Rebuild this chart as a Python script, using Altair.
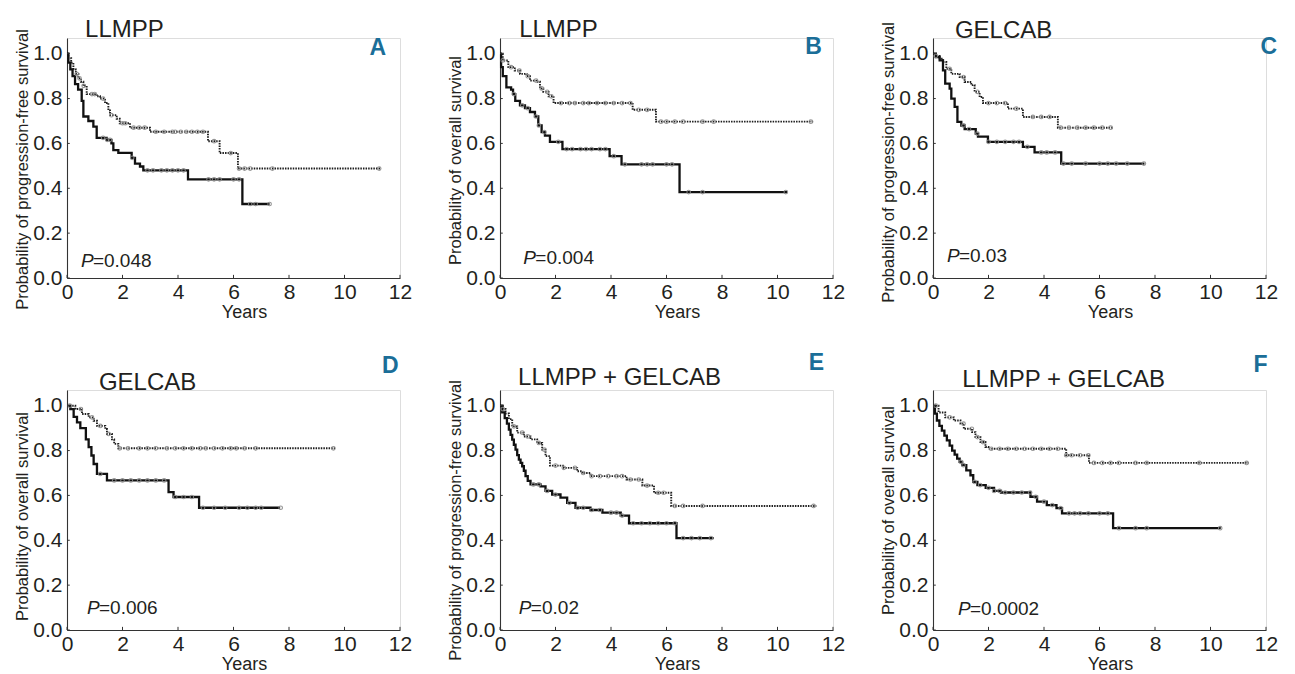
import altair as alt
import pandas as pd

FONT = "Liberation Sans"
TXT = "#231f20"
BLUE = "#1b6e98"

# ---------------- data ----------------
A_solid_t = [0, 0.05, 0.12, 0.2, 0.29, 0.4, 0.53, 0.59, 0.77, 0.95, 1.07, 1.43, 1.6, 1.67, 1.85, 2.33, 2.45, 2.63, 2.75, 4.36, 6.32, 7.3]
A_solid_s = [1.0, 0.96, 0.93, 0.9, 0.864, 0.84, 0.79, 0.72, 0.70, 0.675, 0.625, 0.616, 0.60, 0.57, 0.558, 0.536, 0.51, 0.497, 0.48, 0.44, 0.33, 0.33]
A_dot_t = [0, 0.05, 0.15, 0.23, 0.32, 0.41, 0.5, 0.59, 0.71, 1.07, 1.19, 1.37, 1.49, 1.55, 1.79, 1.9, 2.27, 2.99, 5.08, 5.5, 6.16, 11.3]
A_dot_s = [1.0, 0.98, 0.96, 0.93, 0.91, 0.89, 0.875, 0.857, 0.82, 0.81, 0.80, 0.78, 0.747, 0.726, 0.71, 0.69, 0.67, 0.652, 0.61, 0.557, 0.488, 0.488]

B_solid_t = [0, 0.04, 0.1, 0.23, 0.4, 0.47, 0.55, 0.72, 0.9, 1.08, 1.26, 1.38, 1.5, 1.62, 1.8, 2.25, 3.95, 4.38, 6.47, 10.35]
B_solid_s = [1.0, 0.94, 0.90, 0.85, 0.84, 0.82, 0.79, 0.77, 0.757, 0.74, 0.72, 0.68, 0.65, 0.635, 0.607, 0.575, 0.543, 0.507, 0.383, 0.383]
B_dot_t = [0, 0.1, 0.3, 0.53, 0.72, 0.96, 1.08, 1.32, 1.44, 1.56, 1.75, 1.93, 4.78, 5.62, 11.3]
B_dot_s = [1.0, 0.97, 0.94, 0.925, 0.91, 0.90, 0.88, 0.875, 0.845, 0.83, 0.81, 0.78, 0.75, 0.697, 0.697]

C_solid_t = [0, 0.1, 0.24, 0.36, 0.44, 0.6, 0.66, 0.78, 0.88, 1.02, 1.14, 1.54, 1.62, 1.98, 3.24, 3.66, 4.62, 7.62]
C_solid_s = [1.0, 0.985, 0.97, 0.926, 0.867, 0.844, 0.80, 0.763, 0.696, 0.68, 0.664, 0.644, 0.63, 0.607, 0.585, 0.56, 0.51, 0.51]
C_dot_t = [0, 0.1, 0.24, 0.36, 0.48, 0.66, 0.96, 1.14, 1.38, 1.5, 1.68, 1.8, 2.7, 3.24, 4.5, 6.48]
C_dot_s = [1.0, 0.99, 0.978, 0.963, 0.933, 0.91, 0.896, 0.874, 0.86, 0.83, 0.807, 0.78, 0.755, 0.718, 0.67, 0.67]

D_solid_t = [0, 0.12, 0.24, 0.36, 0.48, 0.68, 0.78, 0.88, 0.96, 1.08, 1.44, 3.66, 3.84, 4.76, 7.68]
D_solid_s = [1.0, 0.985, 0.95, 0.926, 0.9, 0.85, 0.815, 0.778, 0.74, 0.696, 0.667, 0.615, 0.593, 0.545, 0.545]
D_dot_t = [0, 0.3, 0.54, 0.78, 0.96, 1.08, 1.38, 1.44, 1.62, 1.7, 1.85, 9.66]
D_dot_s = [1.0, 0.985, 0.963, 0.948, 0.933, 0.91, 0.896, 0.874, 0.85, 0.83, 0.81, 0.81]

E_solid_t = [0, 0.08, 0.17, 0.25, 0.32, 0.38, 0.44, 0.5, 0.56, 0.62, 0.68, 0.74, 0.8, 0.86, 0.92, 1.0, 1.1, 1.46, 1.64, 1.88, 2.18, 2.42, 2.72, 3.26, 3.69, 4.35, 4.65, 6.36, 7.7]
E_solid_s = [1.0, 0.97, 0.945, 0.92, 0.893, 0.87, 0.849, 0.826, 0.804, 0.78, 0.76, 0.745, 0.73, 0.71, 0.686, 0.665, 0.649, 0.64, 0.62, 0.604, 0.59, 0.567, 0.545, 0.535, 0.523, 0.51, 0.476, 0.41, 0.41]
E_dot_t = [0, 0.1, 0.2, 0.32, 0.44, 0.62, 0.86, 1.1, 1.34, 1.52, 1.64, 1.8, 2.3, 2.78, 2.96, 3.26, 4.56, 5.13, 5.55, 6.17, 11.4]
E_dot_s = [1.0, 0.985, 0.965, 0.94, 0.908, 0.88, 0.863, 0.85, 0.834, 0.804, 0.775, 0.733, 0.723, 0.708, 0.70, 0.686, 0.671, 0.644, 0.612, 0.553, 0.553]

F_solid_t = [0, 0.07, 0.14, 0.23, 0.32, 0.41, 0.5, 0.6, 0.69, 0.78, 0.87, 0.96, 1.05, 1.2, 1.35, 1.45, 1.6, 1.9, 2.2, 2.45, 3.51, 3.75, 4.1, 4.45, 4.65, 6.49, 10.37]
F_solid_s = [1.0, 0.965, 0.934, 0.91, 0.889, 0.867, 0.845, 0.822, 0.80, 0.782, 0.764, 0.75, 0.735, 0.712, 0.69, 0.66, 0.646, 0.634, 0.62, 0.613, 0.594, 0.572, 0.557, 0.543, 0.52, 0.454, 0.454]
F_dot_t = [0, 0.2, 0.44, 0.75, 0.99, 1.11, 1.41, 1.53, 1.71, 1.89, 2.0, 4.8, 5.62, 11.37]
F_dot_s = [1.0, 0.97, 0.948, 0.934, 0.92, 0.897, 0.882, 0.86, 0.838, 0.816, 0.808, 0.779, 0.745, 0.745]

# censoring times
A_solid_c = [1.3, 1.45, 1.55, 2.35, 2.9, 3.1, 3.4, 3.6, 3.8, 4.0, 4.2, 5.1, 5.3, 5.5, 6.0, 6.2, 6.6, 6.8, 7.3]
A_dot_c = [0.35, 0.45, 0.6, 0.9, 1.0, 1.3, 1.6, 2.0, 2.1, 2.4, 2.6, 2.8, 3.2, 3.5, 3.8, 3.9, 4.1, 4.3, 4.5, 4.7, 4.9, 5.3, 5.9, 6.2, 6.4, 6.6, 7.4, 11.25]
B_solid_c = [0.5, 0.8, 1.0, 1.3, 1.4, 1.6, 2.1, 2.4, 2.6, 2.9, 3.1, 3.3, 3.6, 3.8, 4.1, 4.5, 5.1, 5.3, 5.5, 6.0, 6.2, 6.8, 7.3, 10.3]
B_dot_c = [0.1, 0.4, 0.7, 1.0, 1.3, 1.5, 1.7, 1.85, 2.2, 2.5, 2.7, 3.0, 3.2, 3.5, 3.8, 4.1, 4.4, 4.7, 5.0, 5.3, 5.8, 6.0, 6.3, 6.6, 7.3, 7.7, 11.2]
C_solid_c = [1.1, 1.3, 1.6, 2.0, 2.3, 2.6, 2.9, 3.1, 3.4, 3.9, 4.1, 4.4, 4.7, 5.0, 5.5, 6.0, 6.3, 6.6, 7.0, 7.6]
C_dot_c = [0.1, 0.6, 1.1, 1.6, 2.0, 2.3, 2.6, 3.0, 3.6, 3.9, 4.2, 4.6, 4.9, 5.2, 5.5, 5.8, 6.1, 6.4]
D_solid_c = [1.2, 1.7, 2.0, 2.3, 2.6, 2.9, 3.2, 3.5, 3.9, 4.2, 4.5, 4.9, 5.3, 5.7, 6.2, 6.5, 6.8, 7.0, 7.7]
D_dot_c = [0.1, 0.5, 0.9, 1.2, 1.5, 1.9, 2.2, 2.6, 2.9, 3.2, 3.6, 3.9, 4.2, 4.5, 4.8, 5.0, 5.3, 5.6, 5.9, 6.1, 6.4, 6.8, 9.6]
E_solid_c = [1.2, 1.4, 1.7, 2.0, 2.5, 2.8, 3.0, 3.3, 3.6, 4.0, 4.2, 4.4, 4.8, 5.1, 5.4, 5.7, 6.0, 6.3, 6.6, 6.9, 7.2, 7.6]
E_dot_c = [0.1, 0.5, 0.8, 1.0, 1.4, 1.6, 2.0, 2.3, 2.7, 3.0, 3.3, 3.6, 3.9, 4.2, 4.4, 4.7, 5.0, 5.3, 5.7, 5.9, 6.3, 6.6, 7.3, 11.3]
F_solid_c = [1.0, 1.1, 1.5, 1.7, 2.0, 2.2, 2.4, 2.6, 2.9, 3.2, 3.5, 3.7, 4.0, 4.3, 4.6, 4.9, 5.1, 5.3, 5.6, 6.0, 6.3, 6.7, 7.3, 7.7, 10.35]
F_dot_c = [0.1, 0.6, 1.1, 1.4, 1.6, 1.8, 2.1, 2.4, 2.7, 3.0, 3.3, 3.6, 3.9, 4.2, 4.5, 4.8, 5.0, 5.3, 5.6, 5.8, 6.1, 6.4, 6.7, 7.3, 7.7, 9.6, 11.3]

panel_letters = ["A", "B", "C", "D", "E", "F"]
panel_titles = ["LLMPP", "LLMPP", "GELCAB", "GELCAB", "LLMPP + GELCAB", "LLMPP + GELCAB"]
y_titles = ["Probability of progression-free survival", "Probability of overall survival",
            "Probability of progression-free survival", "Probability of overall survival",
            "Probability of progression-free survival", "Probability of overall survival"]
p_values = ["=0.048", "=0.004", "=0.03", "=0.006", "=0.02", "=0.0002"]
p_pos_t = [0.5, 0.84, 0.5, 0.72, 0.68, 0.9]
p_pos_s = [0.05, 0.062, 0.071, 0.071, 0.071, 0.067]
letter_t = [11.2, 11.3, 12.1, 11.65, 11.4, 11.8]
letter_s = [0.996, 1.0, 1.0, 1.147, 1.16, 1.15]
title_t = [0.65, 0.69, 0.79, 1.15, 0.65, 1.05]
title_s = [1.076, 1.076, 1.071, 1.071, 1.093, 1.084]
ytitle_y = [131, 122, 124, 126, 130, 120]

x_ticks = [0, 2, 4, 6, 8, 10, 12]
y_ticks = [0.0, 0.2, 0.4, 0.6, 0.8, 1.0]

curves = {
    "A": (A_solid_t, A_solid_s, A_dot_t, A_dot_s, A_solid_c, A_dot_c),
    "B": (B_solid_t, B_solid_s, B_dot_t, B_dot_s, B_solid_c, B_dot_c),
    "C": (C_solid_t, C_solid_s, C_dot_t, C_dot_s, C_solid_c, C_dot_c),
    "D": (D_solid_t, D_solid_s, D_dot_t, D_dot_s, D_solid_c, D_dot_c),
    "E": (E_solid_t, E_solid_s, E_dot_t, E_dot_s, E_solid_c, E_dot_c),
    "F": (F_solid_t, F_solid_s, F_dot_t, F_dot_s, F_solid_c, F_dot_c),
}

W, H = 333, 240


def step_value(ts, ss, t):
    v = ss[0]
    for ti, si in zip(ts, ss):
        if ti <= t:
            v = si
    return v


def censor_df(ts, ss, cs):
    return pd.DataFrame({"t": cs, "s": [step_value(ts, ss, c) for c in cs]})


def make_panel(i):
    key = panel_letters[i]
    st, ss, dt, ds, sc, dc = curves[key]

    x = alt.X("t:Q", scale=alt.Scale(domain=[0, 12], nice=False, zero=False),
              axis=alt.Axis(values=x_ticks, title="Years", grid=False, tickSize=0,
                            labelFontSize=21, labelFont=FONT, labelColor=TXT, labelPadding=3,
                            titleFontSize=18, titleFont=FONT, titleColor=TXT, titleFontWeight="normal",
                            titleX=177, titleY=39, titleBaseline="alphabetic",
                            domainColor="#333", domainWidth=1.1, labelFlush=False))
    y = alt.Y("s:Q", scale=alt.Scale(domain=[0, 1.07], nice=False, zero=False),
              axis=alt.Axis(values=y_ticks, format=".1f", title=y_titles[i], grid=False, tickSize=0,
                            labelFontSize=21, labelFont=FONT, labelColor=TXT, labelPadding=5,
                            titleFontSize=16.5, titleFont=FONT, titleColor=TXT, titleFontWeight="normal",
                            titleX=-37, titleY=ytitle_y[i], titleBaseline="bottom", titleAngle=270,
                            domainColor="#333", domainWidth=1.1, labelFlush=False))

    solid = alt.Chart(pd.DataFrame({"t": st, "s": ss})).mark_line(
        interpolate="step-after", color="#111111", strokeWidth=2.3).encode(x=x, y=y)
    dotted = alt.Chart(pd.DataFrame({"t": dt, "s": ds})).mark_line(
        interpolate="step-after", color="#1e1e1e", strokeWidth=1.9, strokeDash=[1.5, 1.1]).encode(x=x, y=y)
    cens = alt.Chart(pd.concat([censor_df(st, ss, sc), censor_df(dt, ds, dc)])).mark_point(
        shape="circle", filled=False, size=13, stroke="#8a8a8a", strokeWidth=1.1, opacity=0.9).encode(x=x, y=y)

    xt = alt.Chart(pd.DataFrame({"t": x_ticks})).mark_rule(color="#333", strokeWidth=1).encode(
        x=x, y=alt.datum(0), y2=alt.datum(0.014))
    yt = alt.Chart(pd.DataFrame({"s": y_ticks})).mark_rule(color="#333", strokeWidth=1).encode(
        y=y, x=alt.datum(0), x2=alt.datum(0.1))

    pdf = pd.DataFrame({"t": [p_pos_t[i]], "s": [p_pos_s[i]], "p": ["P"], "v": [p_values[i]]})
    ptxt = alt.Chart(pdf).mark_text(font=FONT, fontSize=19, fontStyle="italic", align="left",
                                    baseline="alphabetic", color=TXT).encode(x=x, y=y, text="p:N")
    vtxt = alt.Chart(pdf).mark_text(font=FONT, fontSize=19, align="left", dx=12,
                                    baseline="alphabetic", color=TXT).encode(x=x, y=y, text="v:N")

    ldf = pd.DataFrame({"t": [letter_t[i]], "s": [letter_s[i]], "l": [key]})
    let = alt.Chart(ldf).mark_text(font=FONT, fontSize=23, fontWeight="bold", align="center",
                                   baseline="alphabetic", color=BLUE).encode(x=x, y=y, text="l:N")

    tdf = pd.DataFrame({"t": [title_t[i]], "s": [title_s[i]], "l": [panel_titles[i]]})
    ttl = alt.Chart(tdf).mark_text(font=FONT, fontSize=24, align="left",
                                   baseline="alphabetic", color=TXT).encode(x=x, y=y, text="l:N")

    return alt.layer(dotted, solid, cens, xt, yt, ptxt, vtxt, let, ttl).properties(width=W, height=H)


panels = [make_panel(i) for i in range(6)]

chart = alt.concat(*panels, columns=3, bounds="flush",
                   spacing={"row": 112, "column": 100}).properties(
    padding={"left": 5, "top": 9, "right": 5, "bottom": 5}).configure_view(stroke=None).configure(
    background="white")

chart.save("out.html", embed_options={"renderer": "svg", "actions": False})
